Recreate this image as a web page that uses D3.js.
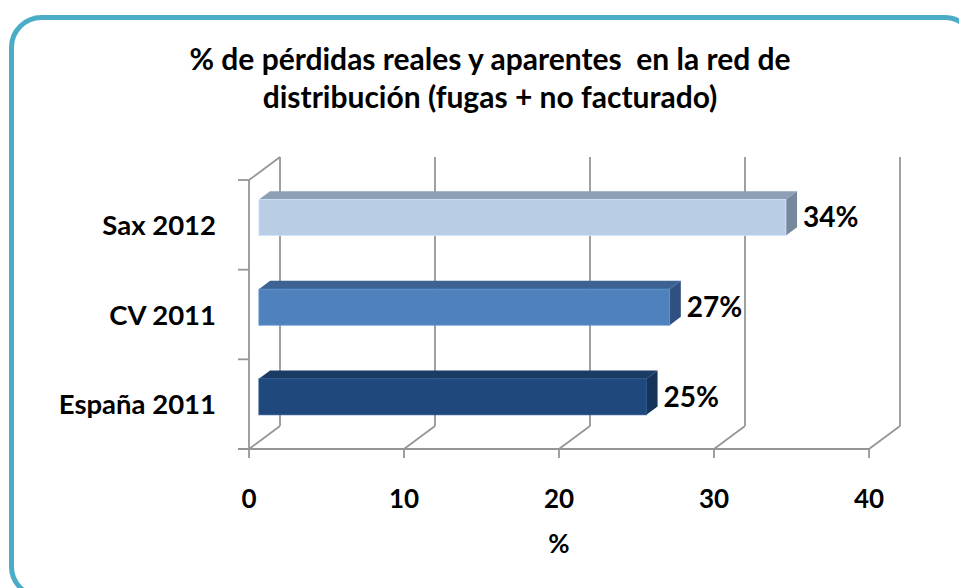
<!DOCTYPE html>
<html>
<head>
<meta charset="utf-8">
<script src="https://cdn.jsdelivr.net/npm/d3@7"></script>
<style>
  body { margin: 0; background: #fff; }
  text { font-family: Lato, "Open Sans", sans-serif; font-weight: bold; fill: #000; }
</style>
</head>
<body>
<div class="chart"></div>
<script>
const width = 959;
const height = 588;

// data
const categories = ["Sax 2012", "CV 2011", "España 2011"];
const values = [34, 26.5, 25];
const valueLabels = ["34%", "27%", "25%"];
const xTicks = [0, 10, 20, 30, 40];
const titleLines = ["% de pérdidas reales y aparentes  en la red de", "distribución (fugas + no facturado)"];
const axisTitle = "%";

// face colours per bar: front, top, side
const barColors = [
  { front: "#b9cde5", top: "#8d9fb5", side: "#77889d" },
  { front: "#4f81bd", top: "#3d6392", side: "#2f5080" },
  { front: "#1f497d", top: "#1a3b64", side: "#16345a" }
];

const gridColor = "#969696";
const depth = { dx: 31, dy: -23 };   // full wall depth offset
const barDepth = [0.32, 0.68];        // bar front / back position inside depth
const barHeight = 36;

const svg = d3.select(".chart")
  .append("svg")
  .attr("width", width)
  .attr("height", height);

// rounded frame
svg.append("rect")
  .attr("x", 11.5)
  .attr("y", 17.5)
  .attr("width", 963)
  .attr("height", 579)
  .attr("rx", 30)
  .attr("fill", "#fff")
  .attr("stroke", "#4bacc6")
  .attr("stroke-width", 5);

const x = d3.scaleLinear().domain([0, 40]).range([249, 869]);
const y = d3.scaleBand().domain(categories).range([180, 449]);

const off = (d) => [depth.dx * d, depth.dy * d];
const yTop = y.range()[0];
const yBot = y.range()[1];

const grid = svg.append("g")
  .attr("stroke", gridColor)
  .attr("stroke-width", 1.8)
  .attr("fill", "none");

// back wall verticals, floor diagonals, ticks under axis
xTicks.forEach(t => {
  grid.append("line")
    .attr("x1", x(t) + depth.dx).attr("y1", yTop + depth.dy)
    .attr("x2", x(t) + depth.dx).attr("y2", yBot + depth.dy);
  grid.append("line")
    .attr("x1", x(t)).attr("y1", yBot)
    .attr("x2", x(t) + depth.dx).attr("y2", yBot + depth.dy);
  grid.append("line")
    .attr("x1", x(t)).attr("y1", yBot)
    .attr("x2", x(t)).attr("y2", yBot + 9);
});

// left wall top edge
grid.append("line")
  .attr("x1", x(0)).attr("y1", yTop)
  .attr("x2", x(0) + depth.dx).attr("y2", yTop + depth.dy);

// front axes
grid.append("line")
  .attr("x1", x(0)).attr("y1", yTop)
  .attr("x2", x(0)).attr("y2", yBot);
grid.append("line")
  .attr("x1", x(0) - 11).attr("y1", yBot)
  .attr("x2", x(40)).attr("y2", yBot);

// category ticks on left
const catEdges = categories.map(c => y(c)).concat([yBot]);
catEdges.forEach(v => {
  grid.append("line")
    .attr("x1", x(0) - 11).attr("y1", v)
    .attr("x2", x(0)).attr("y2", v);
});

// bars
const [f0, f1] = [off(barDepth[0]), off(barDepth[1])];
const bars = svg.append("g");

categories.forEach((c, i) => {
  const cy = y(c) + y.bandwidth() / 2;
  const x0 = x(0) + f0[0];
  const x1 = x(values[i]) + f0[0];
  const yt = cy - barHeight / 2 + f0[1];
  const yb = cy + barHeight / 2 + f0[1];
  const ddx = f1[0] - f0[0];
  const ddy = f1[1] - f0[1];
  const col = barColors[i];

  // top face
  bars.append("path")
    .attr("d", `M${x0},${yt}L${x0 + ddx},${yt + ddy}L${x1 + ddx},${yt + ddy}L${x1},${yt}Z`)
    .attr("fill", col.top);
  // side face
  bars.append("path")
    .attr("d", `M${x1},${yt}L${x1 + ddx},${yt + ddy}L${x1 + ddx},${yb + ddy}L${x1},${yb}Z`)
    .attr("fill", col.side);
  // front face
  bars.append("rect")
    .attr("x", x0)
    .attr("y", yt)
    .attr("width", x1 - x0)
    .attr("height", barHeight)
    .attr("fill", col.front)
    .attr("stroke", d3.color(col.front).brighter(0.3))
    .attr("stroke-width", 0.8);

  // value label
  svg.append("text")
    .attr("x", x1 + 17)
    .attr("y", cy + f0[1] + 10)
    .attr("font-size", 28)
    .text(valueLabels[i]);

  // category label
  svg.append("text")
    .attr("x", 216)
    .attr("y", cy + 10)
    .attr("text-anchor", "end")
    .attr("font-size", 27.5)
    .text(c);
});

// x tick labels
svg.append("g")
  .selectAll("text")
  .data(xTicks)
  .join("text")
  .attr("x", d => x(d))
  .attr("y", 508)
  .attr("text-anchor", "middle")
  .attr("font-size", 26)
  .text(d => d);

svg.append("text")
  .attr("x", x(20))
  .attr("y", 553)
  .attr("text-anchor", "middle")
  .attr("font-size", 26)
  .text(axisTitle);

// title
svg.append("g")
  .selectAll("text")
  .data(titleLines)
  .join("text")
  .attr("x", 490)
  .attr("y", (d, i) => 70 + i * 38)
  .attr("text-anchor", "middle")
  .attr("font-size", 30)
  .style("white-space", "pre")
  .text(d => d);
</script>
</body>
</html>
